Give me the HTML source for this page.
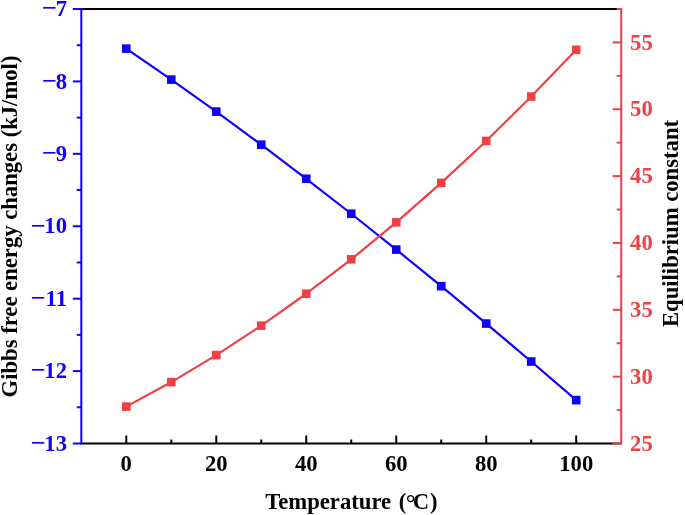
<!DOCTYPE html>
<html><head><meta charset="utf-8"><style>
html,body{margin:0;padding:0;background:#fff;}
svg{display:block;filter:blur(0.35px);}
.t{font-family:"Liberation Serif","Times New Roman",serif;font-weight:bold;font-size:22.67px;}
</style></head><body>
<svg width="685" height="515" viewBox="0 0 685 515">
<line x1="81.3" y1="9.0" x2="621.2" y2="9.0" stroke="#000" stroke-width="2"/>
<line x1="81.3" y1="443.5" x2="621.2" y2="443.5" stroke="#000" stroke-width="2"/>
<line x1="126.29" y1="443.5" x2="126.29" y2="435.5" stroke="#000" stroke-width="2"/>
<text transform="translate(126.29,470.5) scale(1,1.05)" text-anchor="middle" class="t">0</text>
<line x1="216.28" y1="443.5" x2="216.28" y2="435.5" stroke="#000" stroke-width="2"/>
<text transform="translate(216.28,470.5) scale(1,1.05)" text-anchor="middle" class="t">20</text>
<line x1="306.26" y1="443.5" x2="306.26" y2="435.5" stroke="#000" stroke-width="2"/>
<text transform="translate(306.26,470.5) scale(1,1.05)" text-anchor="middle" class="t">40</text>
<line x1="396.24" y1="443.5" x2="396.24" y2="435.5" stroke="#000" stroke-width="2"/>
<text transform="translate(396.24,470.5) scale(1,1.05)" text-anchor="middle" class="t">60</text>
<line x1="486.23" y1="443.5" x2="486.23" y2="435.5" stroke="#000" stroke-width="2"/>
<text transform="translate(486.23,470.5) scale(1,1.05)" text-anchor="middle" class="t">80</text>
<line x1="576.21" y1="443.5" x2="576.21" y2="435.5" stroke="#000" stroke-width="2"/>
<text transform="translate(576.21,470.5) scale(1,1.05)" text-anchor="middle" class="t">100</text>
<line x1="171.28" y1="443.5" x2="171.28" y2="439.5" stroke="#000" stroke-width="2"/>
<line x1="261.27" y1="443.5" x2="261.27" y2="439.5" stroke="#000" stroke-width="2"/>
<line x1="351.25" y1="443.5" x2="351.25" y2="439.5" stroke="#000" stroke-width="2"/>
<line x1="441.23" y1="443.5" x2="441.23" y2="439.5" stroke="#000" stroke-width="2"/>
<line x1="531.22" y1="443.5" x2="531.22" y2="439.5" stroke="#000" stroke-width="2"/>
<line x1="81.3" y1="8.0" x2="81.3" y2="444.5" stroke="#1000FF" stroke-width="2"/>
<line x1="72.8" y1="9.00" x2="81.3" y2="9.00" stroke="#1000FF" stroke-width="2"/>
<text transform="translate(67,16.10) scale(1,1.05)" text-anchor="end" class="t" fill="#1000FF">7</text>
<text transform="translate(49.37,16.40) scale(1.17,1.1)" text-anchor="middle" class="t" fill="#1000FF">−</text>
<line x1="72.8" y1="81.42" x2="81.3" y2="81.42" stroke="#1000FF" stroke-width="2"/>
<text transform="translate(67,88.52) scale(1,1.05)" text-anchor="end" class="t" fill="#1000FF">8</text>
<text transform="translate(49.37,88.82) scale(1.17,1.1)" text-anchor="middle" class="t" fill="#1000FF">−</text>
<line x1="72.8" y1="153.83" x2="81.3" y2="153.83" stroke="#1000FF" stroke-width="2"/>
<text transform="translate(67,160.93) scale(1,1.05)" text-anchor="end" class="t" fill="#1000FF">9</text>
<text transform="translate(49.37,161.23) scale(1.17,1.1)" text-anchor="middle" class="t" fill="#1000FF">−</text>
<line x1="72.8" y1="226.25" x2="81.3" y2="226.25" stroke="#1000FF" stroke-width="2"/>
<text transform="translate(67,233.35) scale(1,1.05)" text-anchor="end" class="t" fill="#1000FF">10</text>
<text transform="translate(38.03,233.65) scale(1.17,1.1)" text-anchor="middle" class="t" fill="#1000FF">−</text>
<line x1="72.8" y1="298.67" x2="81.3" y2="298.67" stroke="#1000FF" stroke-width="2"/>
<text transform="translate(67,305.77) scale(1,1.05)" text-anchor="end" class="t" fill="#1000FF">11</text>
<text transform="translate(38.03,306.07) scale(1.17,1.1)" text-anchor="middle" class="t" fill="#1000FF">−</text>
<line x1="72.8" y1="371.08" x2="81.3" y2="371.08" stroke="#1000FF" stroke-width="2"/>
<text transform="translate(67,378.18) scale(1,1.05)" text-anchor="end" class="t" fill="#1000FF">12</text>
<text transform="translate(38.03,378.48) scale(1.17,1.1)" text-anchor="middle" class="t" fill="#1000FF">−</text>
<line x1="72.8" y1="443.50" x2="81.3" y2="443.50" stroke="#1000FF" stroke-width="2"/>
<text transform="translate(67,450.60) scale(1,1.05)" text-anchor="end" class="t" fill="#1000FF">13</text>
<text transform="translate(38.03,450.90) scale(1.17,1.1)" text-anchor="middle" class="t" fill="#1000FF">−</text>
<line x1="76.8" y1="45.21" x2="81.3" y2="45.21" stroke="#1000FF" stroke-width="2"/>
<line x1="76.8" y1="117.62" x2="81.3" y2="117.62" stroke="#1000FF" stroke-width="2"/>
<line x1="76.8" y1="190.04" x2="81.3" y2="190.04" stroke="#1000FF" stroke-width="2"/>
<line x1="76.8" y1="262.46" x2="81.3" y2="262.46" stroke="#1000FF" stroke-width="2"/>
<line x1="76.8" y1="334.88" x2="81.3" y2="334.88" stroke="#1000FF" stroke-width="2"/>
<line x1="76.8" y1="407.29" x2="81.3" y2="407.29" stroke="#1000FF" stroke-width="2"/>
<line x1="621.2" y1="8.0" x2="621.2" y2="444.5" stroke="#EF4044" stroke-width="2"/>
<line x1="612.7" y1="443.50" x2="621.2" y2="443.50" stroke="#EF4044" stroke-width="2"/>
<text transform="translate(630.1,450.60) scale(1,1.05)" class="t" fill="#EF4044">25</text>
<line x1="612.7" y1="376.65" x2="621.2" y2="376.65" stroke="#EF4044" stroke-width="2"/>
<text transform="translate(630.1,383.75) scale(1,1.05)" class="t" fill="#EF4044">30</text>
<line x1="612.7" y1="309.81" x2="621.2" y2="309.81" stroke="#EF4044" stroke-width="2"/>
<text transform="translate(630.1,316.91) scale(1,1.05)" class="t" fill="#EF4044">35</text>
<line x1="612.7" y1="242.96" x2="621.2" y2="242.96" stroke="#EF4044" stroke-width="2"/>
<text transform="translate(630.1,250.06) scale(1,1.05)" class="t" fill="#EF4044">40</text>
<line x1="612.7" y1="176.12" x2="621.2" y2="176.12" stroke="#EF4044" stroke-width="2"/>
<text transform="translate(630.1,183.22) scale(1,1.05)" class="t" fill="#EF4044">45</text>
<line x1="612.7" y1="109.27" x2="621.2" y2="109.27" stroke="#EF4044" stroke-width="2"/>
<text transform="translate(630.1,116.37) scale(1,1.05)" class="t" fill="#EF4044">50</text>
<line x1="612.7" y1="42.42" x2="621.2" y2="42.42" stroke="#EF4044" stroke-width="2"/>
<text transform="translate(630.1,49.52) scale(1,1.05)" class="t" fill="#EF4044">55</text>
<line x1="616.7" y1="410.08" x2="621.2" y2="410.08" stroke="#EF4044" stroke-width="2"/>
<line x1="616.7" y1="343.23" x2="621.2" y2="343.23" stroke="#EF4044" stroke-width="2"/>
<line x1="616.7" y1="276.38" x2="621.2" y2="276.38" stroke="#EF4044" stroke-width="2"/>
<line x1="616.7" y1="209.54" x2="621.2" y2="209.54" stroke="#EF4044" stroke-width="2"/>
<line x1="616.7" y1="142.69" x2="621.2" y2="142.69" stroke="#EF4044" stroke-width="2"/>
<line x1="616.7" y1="75.85" x2="621.2" y2="75.85" stroke="#EF4044" stroke-width="2"/>
<line x1="616.7" y1="9.00" x2="621.2" y2="9.00" stroke="#EF4044" stroke-width="2"/>
<polyline points="126.29,48.66 171.28,79.59 216.28,111.62 261.27,144.70 306.26,178.77 351.25,213.75 396.24,249.58 441.23,286.20 486.23,323.54 531.22,361.53 576.21,400.11" fill="none" stroke="#1000FF" stroke-width="2.2" stroke-linejoin="round"/><rect x="121.99" y="44.36" width="8.6" height="8.6" fill="#1000FF"/><rect x="166.98" y="75.29" width="8.6" height="8.6" fill="#1000FF"/><rect x="211.98" y="107.32" width="8.6" height="8.6" fill="#1000FF"/><rect x="256.97" y="140.40" width="8.6" height="8.6" fill="#1000FF"/><rect x="301.96" y="174.47" width="8.6" height="8.6" fill="#1000FF"/><rect x="346.95" y="209.45" width="8.6" height="8.6" fill="#1000FF"/><rect x="391.94" y="245.28" width="8.6" height="8.6" fill="#1000FF"/><rect x="436.93" y="281.90" width="8.6" height="8.6" fill="#1000FF"/><rect x="481.93" y="319.24" width="8.6" height="8.6" fill="#1000FF"/><rect x="526.92" y="357.23" width="8.6" height="8.6" fill="#1000FF"/><rect x="571.91" y="395.81" width="8.6" height="8.6" fill="#1000FF"/>
<polyline points="126.29,406.61 171.28,382.08 216.28,355.11 261.27,325.67 306.26,293.74 351.25,259.31 396.24,222.35 441.23,182.90 486.23,140.96 531.22,96.58 576.21,49.83" fill="none" stroke="#EF4044" stroke-width="2.2" stroke-linejoin="round"/><rect x="121.99" y="402.31" width="8.6" height="8.6" fill="#EF4044"/><rect x="166.98" y="377.78" width="8.6" height="8.6" fill="#EF4044"/><rect x="211.98" y="350.81" width="8.6" height="8.6" fill="#EF4044"/><rect x="256.97" y="321.37" width="8.6" height="8.6" fill="#EF4044"/><rect x="301.96" y="289.44" width="8.6" height="8.6" fill="#EF4044"/><rect x="346.95" y="255.01" width="8.6" height="8.6" fill="#EF4044"/><rect x="391.94" y="218.05" width="8.6" height="8.6" fill="#EF4044"/><rect x="436.93" y="178.60" width="8.6" height="8.6" fill="#EF4044"/><rect x="481.93" y="136.66" width="8.6" height="8.6" fill="#EF4044"/><rect x="526.92" y="92.28" width="8.6" height="8.6" fill="#EF4044"/><rect x="571.91" y="45.53" width="8.6" height="8.6" fill="#EF4044"/>
<text x="351.4" y="509.4" text-anchor="middle" class="t">Temperature <tspan dx="2.0">(</tspan><tspan dx="-0.6" dy="1.3" style="font-size:24.5px">°</tspan><tspan dx="-2.7" dy="-1.3">C</tspan><tspan dx="0.8">)</tspan></text>
<text transform="translate(16.5,226.5) rotate(-90)" text-anchor="middle" class="t">Gibbs free energy changes (kJ/mol)</text>
<text transform="translate(678.3,223.5) rotate(-90)" text-anchor="middle" class="t">Equilibrium constant</text>
</svg>
</body></html>
